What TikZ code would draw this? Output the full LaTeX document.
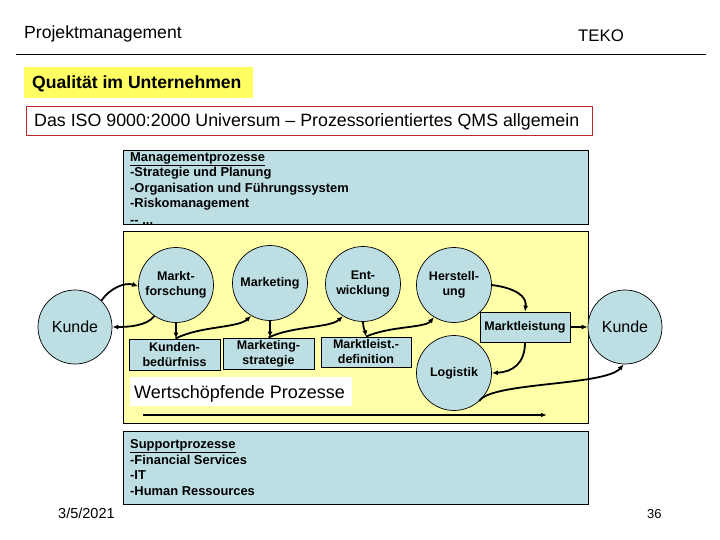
\documentclass[tikz,border=0pt]{standalone}
\usepackage{fontspec}
\setmainfont{Liberation Sans}
\usetikzlibrary{arrows.meta}
\definecolor{qblue}{RGB}{189,223,227}
\definecolor{qyellow}{RGB}{255,255,170}
\definecolor{hyellow}{RGB}{255,255,100}
\definecolor{qred}{RGB}{190,40,40}
\tikzset{
  circ/.style={circle, draw=black, line width=0.7pt, fill=qblue, minimum size=75pt, inner sep=0pt, align=center, font=\fontsize{12.5}{15}\selectfont\bfseries},
  kcirc/.style={circle, draw=black, line width=0.7pt, fill=qblue, minimum size=74pt, inner sep=0pt, font=\fontsize{16}{18}\selectfont},
  rbox/.style={draw=black, line width=0.8pt, fill=qblue, inner sep=0pt, align=center, font=\fontsize{12.5}{15}\selectfont\bfseries},
  lst/.style={anchor=base west, inner sep=0pt, font=\fontsize{12.9}{14}\selectfont\bfseries},
  flow/.style={line width=1.8pt, -{Latex[length=6pt,width=5pt]}},
}
\begin{document}
\begin{tikzpicture}[x=1pt,y=-1pt]
\useasboundingbox (0,0) rectangle (720,540);
% header
\node[anchor=base west, inner sep=0pt, font=\fontsize{17.6}{19}\selectfont] (hl) at (24,38.5) {Projektmanagement};
\node[anchor=base west, inner sep=0pt, font=\fontsize{16.8}{18}\selectfont] (hr) at (578,42) {TEKO};
\draw[line width=0.8pt] (16,54) -- (706,54);
\node[fill=hyellow, anchor=north west, minimum width=229pt, minimum height=31pt, inner sep=0pt] (qbox) at (24,67) {};
\node[anchor=base west, inner sep=0pt, font=\fontsize{17.6}{19}\selectfont\bfseries] (qtext) at (32,88.5) {Qualität im Unternehmen};
\node[draw=qred, line width=0.8pt, anchor=north west, minimum width=566pt, minimum height=29pt, inner sep=0pt] (isobox) at (26,106) {};
\node[anchor=base west, inner sep=0pt, font=\fontsize{17.8}{19}\selectfont] (isotext) at (34,127) {Das ISO 9000:2000 Universum – Prozessorientiertes QMS allgemein};
% management box
\node[draw=black, line width=0.8pt, fill=qblue, anchor=north west, minimum width=465pt, minimum height=74pt, inner sep=0pt] (mgmt) at (123,150) {};
\begin{scope}
\clip (123,150) rectangle (588,224);
\node[lst] (m1) at (130,161.5) {\underline{Managementprozesse}};
\node[lst] (m2) at (130,176.8) {-Strategie und Planung};
\node[lst] (m3) at (130,192.1) {-Organisation und Führungssystem};
\node[lst] (m4) at (130,207.4) {-Riskomanagement};
\node[lst] (m5) at (130,225) {-{}- ...};
\end{scope}
% yellow box
\node[draw=black, line width=0.8pt, fill=qyellow, anchor=north west, minimum width=465pt, minimum height=192pt, inner sep=0pt] (wert) at (123,231) {};
% support box
\node[draw=black, line width=0.8pt, fill=qblue, anchor=north west, minimum width=465pt, minimum height=73pt, inner sep=0pt] (supp) at (123,431) {};
\node[lst] (s1) at (130,448.5) {\underline{Supportprozesse}};
\node[lst] (s2) at (130,464.3) {-Financial Services};
\node[lst] (s3) at (130,479.6) {-IT};
\node[lst] (s4) at (130,495) {-Human Ressources};
% white label
\node[fill=white, anchor=north west, minimum width=222pt, minimum height=29pt, inner sep=0pt] (wlab) at (130,377) {};
\node[anchor=base west, inner sep=0pt, font=\fontsize{18}{20}\selectfont] (wtext) at (134,398) {Wertschöpfende Prozesse};
% bottom arrow
\coordinate (a1) at (143,415);
\coordinate (a2) at (547,415);
\draw[line width=1.2pt, -{Latex[length=6pt,width=4.5pt]}] (a1) -- (a2);
% circles
\node[kcirc] (kl) at (75,327) {Kunde};
\node[kcirc] (kr) at (625,327) {Kunde};
\node[circ] (mf) at (176,285) {Markt-\\forschung};
\node[circ] (mk) at (270,283) {Marketing};
\node[circ] (en) at (363,284) {\raisebox{-3pt}{Ent-}\\\raisebox{-3pt}{wicklung}};
\node[circ] (he) at (454,285) {Herstell-\\ung};
\node[circ] (lo) at (454,373) {Logistik};
% boxes
\node[rbox, minimum width=91pt, minimum height=31pt] (kb) at (174.5,354.5) {Kunden-\\bedürfniss};
\node[rbox, minimum width=91pt, minimum height=31pt] (ms) at (268.5,353.5) {Marketing-\\strategie};
\node[rbox, minimum width=90pt, minimum height=30pt] (md) at (366,352) {Marktleist.-\\definition};
\node[rbox, minimum width=90pt, minimum height=30pt] (ml) at (525,327) {Marktleistung};
% connectors
\draw[flow] (kl.45) .. controls (110,288) and (125,282) .. (mf.182);
\draw[flow] (mf.235) .. controls (147,326) and (128,327) .. (kl.east);
\draw[flow] (mf.south) -- (kb.north -| mf.south);
\draw[flow] ([xshift=1pt]kb.north) .. controls (200,326) and (238,328) .. (mk.240);
\draw[flow] (mk.south) -- (ms.north -| mk.south);
\draw[flow] (ms.north) .. controls (292,326) and (330,328) .. (en.238);
\draw[flow] (en.south) .. controls (363,328) and (365,331) .. (md.north);
\draw[flow] (md.north) .. controls (390,326) and (425,328) .. (he.238);
\draw[flow] (he.east) .. controls (515,288) and (527,296) .. (ml.north);
\draw[flow] (ml.south) .. controls (525,364) and (512,372) .. (lo.east);
\draw[flow] (ml.east) -- (kr.west);
\draw[flow] (lo.312) .. controls (490,382) and (605,386) .. (kr.268);
% footer
\node[anchor=base west, inner sep=0pt, font=\fontsize{14.5}{16}\selectfont] (date) at (58,518.5) {3/5/2021};
\node[anchor=base west, inner sep=0pt, font=\fontsize{13}{14}\selectfont] (page) at (647,518.5) {36};
\end{tikzpicture}
\end{document}
